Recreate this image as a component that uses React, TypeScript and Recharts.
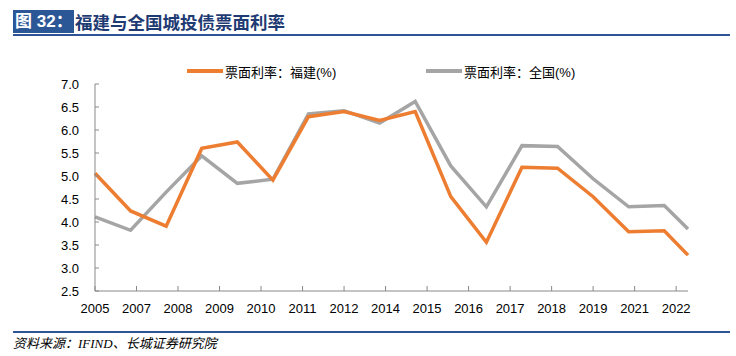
import React from 'react';
import { LineChart, Line, XAxis, YAxis } from 'recharts';

// Observation dates, in months counted from January 2005
const months = [0, 12, 24, 36, 48, 60, 72, 84, 96, 108, 120, 132, 144, 156, 168, 180, 192, 200];
// Coupon rate of urban investment bonds, %
const fujian = [5.06, 4.24, 3.91, 5.6, 5.74, 4.91, 6.29, 6.4, 6.21, 6.4, 4.55, 3.56, 5.19, 5.17, 4.55, 3.79, 3.81, 3.28];
const national = [4.11, 3.82, 4.65, 5.44, 4.84, 4.93, 6.35, 6.42, 6.15, 6.62, 5.22, 4.33, 5.66, 5.64, 4.94, 4.33, 4.36, 3.85];
const seriesNames = ['票面利率：福建(%)', '票面利率：全国(%)'];
const xTickValues = [0, 14, 28, 42, 56, 70, 84, 98, 112, 126, 140, 154, 168, 182, 196];
const xTickLabels = ['2005', '2007', '2008', '2009', '2010', '2011', '2012', '2014', '2015', '2016', '2017', '2018', '2019', '2021', '2022'];
const yTicks = [2.5, 3, 3.5, 4, 4.5, 5, 5.5, 6, 6.5, 7];

const data = months.map((m, i) => ({ m, fujian: fujian[i], national: national[i] }));

const ORANGE = '#ED7D31';
const GRAY = '#A5A5A5';
const AXIS = '#898989';
const BLUE = '#2F5496';
const LATIN = "'Liberation Sans', Arial, 'Noto Sans CJK SC', sans-serif";

const XTick = (props: any) => {
  const { x, y, payload } = props;
  const idx = xTickValues.indexOf(payload.value);
  return (
    <g>
      <line x1={x} x2={x} y1={y} y2={y - 5} stroke={AXIS} strokeWidth={1} />
      <text x={x} y={y + 22} textAnchor="middle" fontSize={13} fontFamily={LATIN} fill="#000">
        {xTickLabels[idx]}
      </text>
    </g>
  );
};

const YTick = (props: any) => {
  const { x, y, payload } = props;
  return (
    <g>
      <line x1={x} x2={x + 4} y1={y} y2={y} stroke={AXIS} strokeWidth={1} />
      <text x={x - 16} y={y + 4.6} textAnchor="end" fontSize={13} fontFamily={LATIN} fill="#000">
        {Number(payload.value).toFixed(1)}
      </text>
    </g>
  );
};

export default function App() {
  const legendItems = [
    { name: seriesNames[0], color: ORANGE, left: 187 },
    { name: seriesNames[1], color: GRAY, left: 426 },
  ];
  return (
    <div style={{ position: 'absolute', left: 0, top: 0, width: 736, height: 356, background: '#fff', overflow: 'hidden' }}>
      {/* header */}
      <div style={{ position: 'absolute', left: 13, top: 10, width: 61, height: 23, background: '#2B5797' }} />
      <div style={{ position: 'absolute', left: 15, top: 10, height: 23, lineHeight: '23px', color: '#fff', fontWeight: 'bold', fontSize: 17, fontFamily: LATIN, whiteSpace: 'nowrap' }}>
        图 32：
      </div>
      <div style={{ position: 'absolute', left: 75, top: 10, height: 23, lineHeight: '23px', color: '#1F3B73', fontWeight: 'bold', fontSize: 17.5, fontFamily: "'Noto Sans CJK SC', sans-serif", whiteSpace: 'nowrap' }}>
        福建与全国城投债票面利率
      </div>
      <div style={{ position: 'absolute', left: 13, top: 34, width: 717, height: 2, background: BLUE }} />

      {/* legend */}
      {legendItems.map((it) => (
        <div key={it.name} style={{ position: 'absolute', left: it.left, top: 62, height: 18, display: 'flex', alignItems: 'center', whiteSpace: 'nowrap' }}>
          <div style={{ width: 36, height: 4, background: it.color }} />
          <span style={{ marginLeft: 2, fontSize: 13, fontFamily: LATIN, color: '#000' }}>{it.name}</span>
        </div>
      ))}

      <div style={{ position: 'absolute', left: 0, top: 0 }}>
        <LineChart width={736} height={356} data={data} margin={{ top: 84, right: 48, bottom: 35, left: 55 }}>
          <XAxis
            dataKey="m"
            type="number"
            domain={[0, 200]}
            ticks={xTickValues}
            interval={0}
            height={30}
            tickSize={0}
            tickMargin={0}
            tickLine={false}
            axisLine={{ stroke: AXIS, strokeWidth: 1 }}
            tick={<XTick />}
          />
          <YAxis
            type="number"
            domain={[2.5, 7]}
            ticks={yTicks}
            interval={0}
            width={40}
            tickSize={0}
            tickMargin={0}
            tickLine={false}
            axisLine={{ stroke: AXIS, strokeWidth: 1 }}
            tick={<YTick />}
          />
          <Line type="linear" dataKey="national" name={seriesNames[1]} stroke={GRAY} strokeWidth={3.5} dot={false} isAnimationActive={false} />
          <Line type="linear" dataKey="fujian" name={seriesNames[0]} stroke={ORANGE} strokeWidth={3.5} dot={false} isAnimationActive={false} />
        </LineChart>
      </div>

      {/* footer */}
      <div style={{ position: 'absolute', left: 13, top: 331, width: 717, height: 2, background: BLUE }} />
      <div style={{ position: 'absolute', left: 13, top: 335, height: 18, lineHeight: '18px', fontSize: 13, fontStyle: 'italic', fontFamily: "'Liberation Serif', 'Noto Sans CJK SC', serif", color: '#000', whiteSpace: 'nowrap' }}>
        资料来源：IFIND、长城证券研究院
      </div>
    </div>
  );
}
